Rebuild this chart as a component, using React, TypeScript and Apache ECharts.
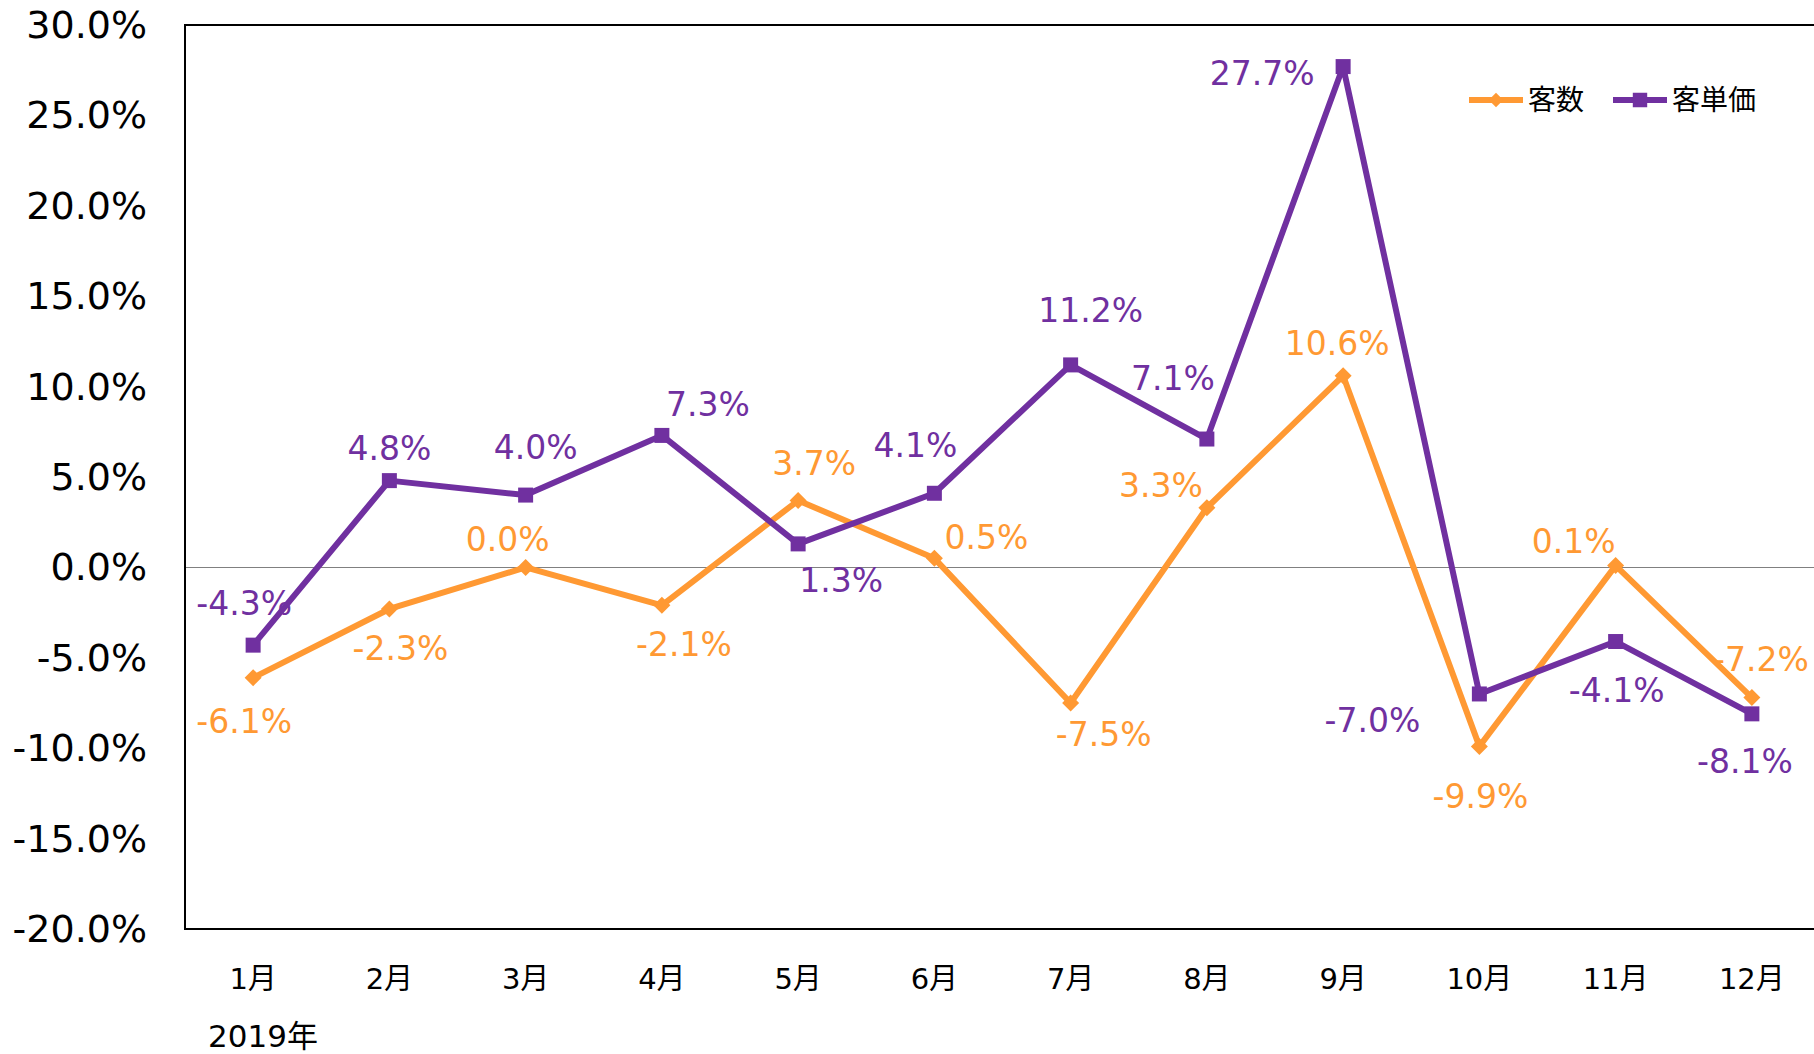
import React, { useEffect, useRef } from "react";
import * as echarts from "echarts";

const months = ["1月", "2月", "3月", "4月", "5月", "6月", "7月", "8月", "9月", "10月", "11月", "12月"];
const customers = [-6.1, -2.3, 0.0, -2.1, 3.7, 0.5, -7.5, 3.3, 10.6, -9.9, 0.1, -7.2];
const unitPrice = [-4.3, 4.8, 4.0, 7.3, 1.3, 4.1, 11.2, 7.1, 27.7, -7.0, -4.1, -8.1];
const customerLabelOffsets = [[-9, 44], [11, 40], [-18, -28], [22, 39], [16, -37], [52, -21], [33, 31], [-46, -22], [-6, -32], [1, 50], [-42, -24], [9, -38]];
const priceLabelOffsets = [[-9, -42], [0, -32], [10, -48], [46, -31], [43, 37], [-19, -48], [20, -54], [-34, -61], [-81, 7], [-107, 27], [1, 49], [-7, 48]];
const yearLabel = "2019年";

const ORANGE = "#FF9933";
const PURPLE = "#7030A0";
const FONT = '"DejaVu Sans", "Noto Sans CJK JP", sans-serif';

export default function App() {
  const ref = useRef<HTMLDivElement>(null);
  useEffect(() => {
    if (!ref.current) return;
    const chart = echarts.init(ref.current, undefined, { renderer: "svg" });
    const mk = (vals: number[], offs: number[][]) =>
      vals.map((v, i) => ({
        value: v,
        label: { offset: offs[i] },
      }));
    const splitColors = ["transparent", "transparent", "transparent", "transparent", "#808080", "transparent", "transparent", "transparent", "transparent", "transparent", "transparent"];
    chart.setOption({
      animation: false,
      textStyle: { fontFamily: FONT },
      grid: {
        left: 185,
        top: 25,
        right: 10,
        bottom: 125,
        show: true,
        borderColor: "#000",
        borderWidth: 2,
      },
      legend: {
        left: 1466,
        top: 86,
        padding: 0,
        itemWidth: 54,
        itemHeight: 18,
        itemGap: 26,
        lineStyle: { width: 6 },
        textStyle: { fontSize: 28, color: "#000", fontFamily: FONT },
        data: ["客数", "客単価"],
      },
      xAxis: {
        type: "category",
        data: months,
        boundaryGap: true,
        axisLine: { onZero: false, lineStyle: { color: "#000", width: 2 } },
        axisTick: { show: false },
        axisLabel: { fontSize: 29, color: "#000", margin: 35, fontFamily: FONT },
      },
      yAxis: {
        type: "value",
        min: -20,
        max: 30,
        interval: 5,
        axisLine: { show: true, lineStyle: { color: "#000", width: 2 } },
        axisTick: { show: false },
        axisLabel: {
          fontSize: 38,
          color: "#000",
          margin: 38,
          fontFamily: FONT,
          formatter: (v: number) => v.toFixed(1) + "%",
        },
        splitLine: { show: true, lineStyle: { color: splitColors, width: 1 } },
      },
      graphic: [
        {
          type: "text",
          left: 208,
          top: 1020,
          style: { text: yearLabel, fontSize: 31, fill: "#000", fontFamily: FONT },
        },
      ],
      series: [
        {
          name: "客数",
          type: "line",
          data: mk(customers, customerLabelOffsets),
          symbol: "diamond",
          symbolSize: 17,
          itemStyle: { color: ORANGE },
          lineStyle: { color: ORANGE, width: 6 },
          z: 2,
          label: {
            show: true,
            position: "inside",
            fontSize: 33,
            color: ORANGE,
            fontFamily: FONT,
            formatter: (p: any) => p.value.toFixed(1) + "%",
          },
        },
        {
          name: "客単価",
          type: "line",
          data: mk(unitPrice, priceLabelOffsets),
          symbol: "rect",
          symbolSize: 15,
          itemStyle: { color: PURPLE },
          lineStyle: { color: PURPLE, width: 6 },
          z: 3,
          label: {
            show: true,
            position: "inside",
            fontSize: 33,
            color: PURPLE,
            fontFamily: FONT,
            formatter: (p: any) => p.value.toFixed(1) + "%",
          },
        },
      ],
    });
    return () => chart.dispose();
  }, []);
  return (
    <div
      style={{ position: "absolute", left: 0, top: 0, width: 1814, height: 1054, overflow: "hidden", background: "#fff" }}
    >
      <div ref={ref} style={{ width: 1830, height: 1054 }} />
    </div>
  );
}
